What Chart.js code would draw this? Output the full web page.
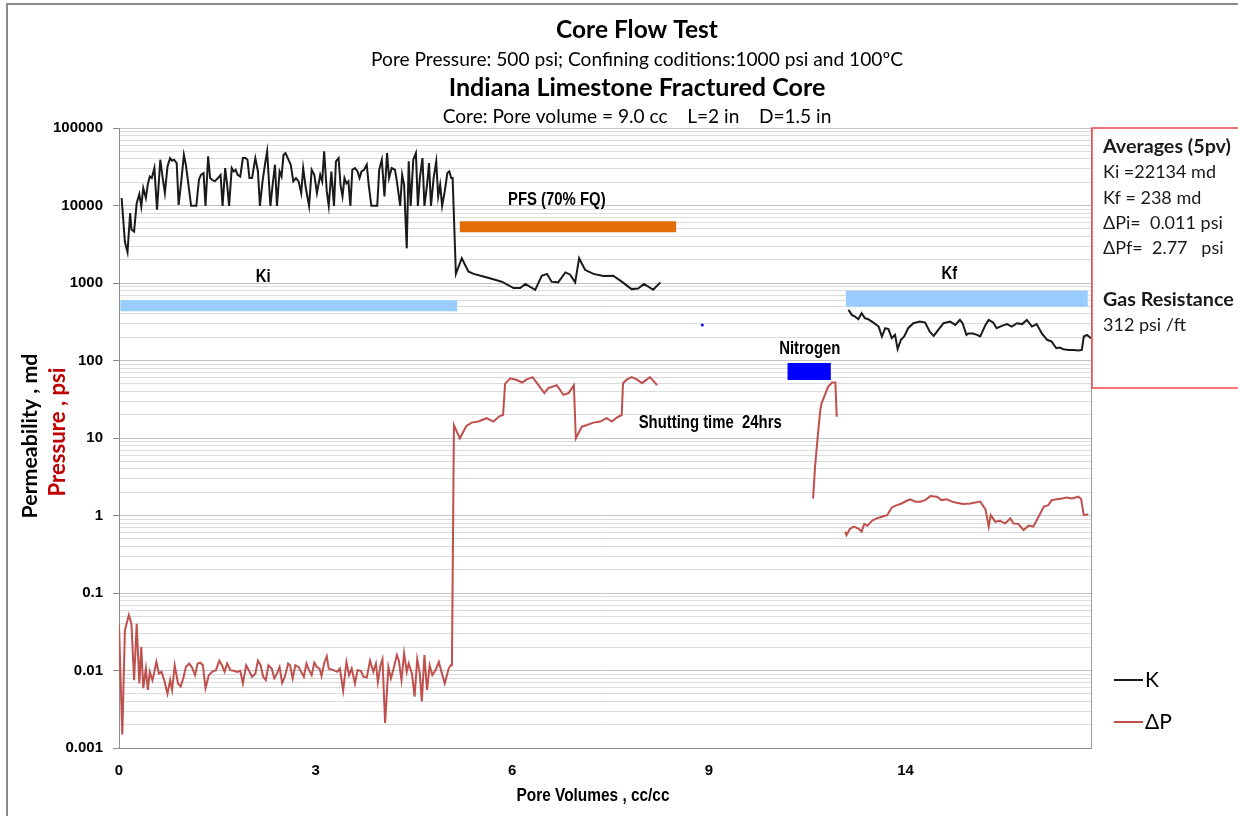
<!DOCTYPE html>
<html><head><meta charset="utf-8">
<script src="https://cdn.jsdelivr.net/npm/chart.js@4.4.1/dist/chart.umd.min.js"></script>
<style>html,body{margin:0;padding:0;background:#fff;}#wrap{width:1238px;height:816px;position:relative;}</style>
</head><body><div id="wrap"><canvas id="c"></canvas></div>
<script>
// ---------- axis ticks ----------
const xTickPos = [0, 3, 6, 9, 12];
const xTickLabels = ['0', '3', '6', '9', '14'];
const yTickValues = [0.001, 0.01, 0.1, 1, 10, 100, 1000, 10000, 100000];
const yTickLabels = ['0.001', '0.01', '0.1', '1', '10', '100', '1000', '10000', '100000'];

// ---------- K (permeability, md) : Ki + PFS period ----------
const kPV = [0.04,0.09,0.13,0.17,0.19,0.23,0.27,0.31,0.34,0.37,0.41,0.44,0.47,0.50,0.54,0.58,0.63,0.66,0.70,0.74,0.78,0.81,0.84,0.88,0.91,0.95,0.99,1.02,1.06,1.10,1.14,1.18,1.22,1.25,1.29,1.32,1.36,1.39,1.42,1.46,1.51,1.55,1.58,1.62,1.65,1.68,1.72,1.75,1.78,1.81,1.85,1.89,1.93,1.96,1.99,2.03,2.08,2.12,2.15,2.19,2.23,2.26,2.31,2.35,2.38,2.41,2.45,2.48,2.51,2.54,2.58,2.62,2.66,2.70,2.74,2.78,2.81,2.85,2.90,2.94,2.98,3.02,3.07,3.10,3.13,3.17,3.20,3.24,3.28,3.31,3.35,3.38,3.41,3.44,3.47,3.50,3.53,3.56,3.60,3.64,3.67,3.70,3.74,3.78,3.81,3.85,3.89,3.94,3.97,4.01,4.05,4.09,4.12,4.16,4.21,4.24,4.29,4.32,4.35,4.39,4.42,4.45,4.49,4.53,4.56,4.59,4.63,4.66,4.70,4.73,4.76,4.80,4.84,4.87,4.90,4.93,4.97,5.01,5.04,5.07,5.09,5.14,5.23,5.33,5.41,5.56,5.71,5.84,6.02,6.12,6.20,6.35,6.45,6.53,6.60,6.70,6.81,6.88,6.96,7.02,7.11,7.24,7.39,7.54,7.67,7.82,7.92,8.01,8.15,8.26];
const kVal = [12500,3400,2500,8000,4900,4600,10700,14000,9700,16800,12500,18900,23700,22600,30400,8800,39000,24900,14500,31900,40900,37900,39000,35300,10200,20500,45100,33600,18500,9900,9900,9900,21500,24900,26200,9900,43000,22600,21500,20500,22600,24900,9900,30400,18500,9900,30400,27500,28900,24900,23700,40900,40900,39000,22600,22600,40900,27500,9900,20500,35300,49900,9900,20500,33600,9900,27500,23700,45100,47400,40000,33600,20500,22600,20500,14500,30400,16800,9900,28900,24900,14500,24900,20500,49900,15200,9900,27500,9900,37100,40900,18500,13100,22600,19300,20500,9900,28900,30400,27500,22600,27500,28900,33600,18500,9900,9900,9900,28900,39000,13100,47400,22600,30400,28900,20500,9900,24900,18500,2800,37100,9900,39000,47400,9900,22600,40900,9900,18500,35300,9900,22600,37100,13100,18500,9900,15200,26200,27500,22600,22600,1310,2090,1410,1310,1210,1120,1040,860,860,975,817,1240,1310,1040,1020,1370,1290,1020,2090,1480,1310,1230,1240,1040,834,850,970,817,1020];

// ---------- K : Kf period ----------
const kfPV = [11.13,11.18,11.23,11.28,11.33,11.38,11.43,11.51,11.59,11.64,11.69,11.74,11.79,11.84,11.88,11.93,11.98,12.04,12.12,12.22,12.30,12.37,12.43,12.50,12.58,12.68,12.76,12.83,12.87,12.93,12.96,13.03,13.09,13.14,13.22,13.27,13.34,13.39,13.47,13.55,13.62,13.70,13.78,13.85,13.93,14.00,14.08,14.16,14.23,14.30,14.35,14.41,14.49,14.56,14.64,14.69,14.72,14.77,14.83];
const kfVal = [450,388,369,341,408,352,341,308,274,204,261,254,194,214,140,185,204,261,303,318,308,236,208,248,303,318,288,334,303,214,223,223,214,204,288,334,308,261,280,295,274,303,295,334,274,295,223,185,175,144,147,140,137,137,135,137,204,214,194];

// ---------- ΔP (psi) : Ki + PFS period ----------
const dpPV = [0.00,0.05,0.09,0.15,0.19,0.23,0.27,0.31,0.34,0.37,0.41,0.44,0.47,0.51,0.54,0.57,0.61,0.65,0.69,0.74,0.78,0.81,0.85,0.90,0.94,0.98,1.02,1.07,1.11,1.16,1.20,1.24,1.28,1.32,1.37,1.42,1.48,1.53,1.57,1.61,1.65,1.70,1.75,1.80,1.85,1.89,1.94,1.98,2.03,2.08,2.12,2.16,2.20,2.24,2.28,2.33,2.37,2.41,2.45,2.49,2.53,2.58,2.61,2.65,2.69,2.74,2.78,2.82,2.86,2.90,2.94,2.98,3.02,3.06,3.09,3.13,3.17,3.20,3.27,3.33,3.37,3.42,3.47,3.51,3.55,3.60,3.64,3.69,3.73,3.78,3.83,3.88,3.92,3.95,3.99,4.02,4.06,4.11,4.15,4.19,4.24,4.27,4.31,4.35,4.39,4.42,4.47,4.51,4.55,4.59,4.62,4.66,4.70,4.74,4.78,4.83,4.88,4.92,4.97,5.03,5.06,5.08,5.11,5.20,5.30,5.38,5.48,5.61,5.71,5.81,5.86,5.89,5.97,6.07,6.15,6.22,6.31,6.40,6.49,6.55,6.68,6.78,6.86,6.94,6.97,7.06,7.14,7.24,7.34,7.44,7.52,7.60,7.67,7.69,7.75,7.82,7.90,7.98,8.10,8.21];
const dpVal = [0.0385,0.0015,0.033,0.052,0.040,0.0075,0.040,0.0068,0.020,0.0059,0.0106,0.0056,0.0096,0.0075,0.0096,0.0129,0.0091,0.0096,0.0075,0.0050,0.0075,0.0056,0.0117,0.0068,0.0062,0.0079,0.0111,0.0123,0.0111,0.0087,0.0123,0.0126,0.0117,0.0059,0.0087,0.0096,0.0101,0.0134,0.0117,0.0096,0.0123,0.0101,0.0099,0.0096,0.0099,0.0068,0.0117,0.0101,0.0083,0.0091,0.0134,0.0117,0.0083,0.0075,0.0117,0.0106,0.0079,0.0091,0.0111,0.0069,0.0083,0.0123,0.0117,0.0079,0.0117,0.0111,0.0096,0.0083,0.0123,0.0101,0.0087,0.0126,0.0111,0.0106,0.0085,0.0123,0.0153,0.0106,0.0101,0.0096,0.0106,0.0055,0.0129,0.0087,0.0106,0.0068,0.0101,0.0099,0.0083,0.0081,0.0134,0.0096,0.0123,0.0071,0.0117,0.0140,0.0021,0.0111,0.0079,0.0106,0.0158,0.0134,0.0075,0.0166,0.0096,0.0123,0.0091,0.0046,0.0140,0.0091,0.0040,0.0158,0.0056,0.0117,0.0087,0.0101,0.0129,0.0096,0.0068,0.0106,0.0117,0.0117,14.7,9.9,14.3,15.8,16.3,18.0,16.3,19.2,19.8,50,59,56,52,57,61,48,38,44,48,36,38,48,9.9,14.0,14.7,15.8,16.3,18.0,16.3,18.5,19.8,51,57,61,57,51,61,48];

// ---------- ΔP : Nitrogen period ----------
const dpN2PV = [10.59,10.62,10.67,10.70,10.72,10.77,10.82,10.88,10.93,10.95];
const dpN2Val = [1.66,4.3,12.7,23,28,36,46,52,52,18.8];

// ---------- ΔP : Kf period ----------
const dpKfPV = [11.08,11.10,11.15,11.21,11.28,11.33,11.37,11.42,11.49,11.56,11.64,11.72,11.79,11.87,11.94,12.02,12.07,12.15,12.22,12.30,12.38,12.48,12.55,12.63,12.71,12.78,12.88,12.99,13.14,13.22,13.27,13.30,13.37,13.44,13.52,13.60,13.65,13.72,13.80,13.88,13.95,14.03,14.11,14.18,14.23,14.31,14.39,14.46,14.54,14.64,14.68,14.72,14.79];
const dpKfVal = [0.62,0.56,0.67,0.72,0.68,0.62,0.78,0.74,0.857,0.918,0.965,1.01,1.27,1.36,1.43,1.55,1.62,1.51,1.51,1.58,1.78,1.75,1.58,1.62,1.51,1.46,1.41,1.43,1.51,1.20,0.72,1.01,0.83,0.857,0.79,0.918,0.79,0.78,0.65,0.74,0.72,0.965,1.30,1.36,1.58,1.62,1.66,1.71,1.66,1.75,1.62,1.01,1.04];

// ---------- isolated point & period bars ----------
const dotPV = [8.90];
const dotVal = [288];
const barKiPV = [0.02, 5.16];   const barKiVal = [510, 510];
const barPfsPV = [5.20, 8.50];  const barPfsVal = [5300, 5300];
const barKfPV = [11.09, 14.78]; const barKfVal = [624, 624];
const barN2PV = [10.20, 10.86]; const barN2Val = [72, 72];

// ---------- annotation texts ----------
const annoText = ['Ki', 'PFS (70% FQ)', 'Kf', 'Nitrogen', 'Shutting time  24hrs'];
const annoPV = [2.20, 6.68, 12.67, 10.54, 9.02];
const annoVal = [1200, 11900, 1310, 141, 15.6];

const titleLines = ['Core Flow Test', 'Pore Pressure: 500 psi; Confining coditions:1000 psi and 100ºC', 'Indiana Limestone Fractured Core', 'Core: Pore volume = 9.0 cc    L=2 in    D=1.5 in'];
const boxLines = ['Averages (5pv)', 'Ki =22134 md', 'Kf = 238 md', 'ΔPi=  0.011 psi', 'ΔPf=  2.77   psi', '', 'Gas Resistance', '312 psi /ft'];
const legendLabels = ['K', 'ΔP'];

// ---------- build ----------
const pts = (xs, ys) => xs.map((x, i) => ({x: x, y: ys[i]}));
const K_COLOR = '#1a1a1a', DP_COLOR = '#C0504D';
const line = (label, xs, ys, color, w, extra) => Object.assign({label, data: pts(xs, ys), borderColor: color, backgroundColor: color, borderWidth: w, pointRadius: 0, tension: 0, fill: false}, extra || {});
const datasets = [
  line('K', kPV, kVal, K_COLOR, 2),
  line('K', kfPV, kfVal, K_COLOR, 2),
  line('ΔP', dpPV, dpVal, DP_COLOR, 2),
  line('ΔP', dpN2PV, dpN2Val, DP_COLOR, 2),
  line('ΔP', dpKfPV, dpKfVal, DP_COLOR, 2),
  line('dot', dotPV, dotVal, '#0000FF', 0, {pointRadius: 1.5, showLine: false}),
  line('Ki bar', barKiPV, barKiVal, '#99CCFF', 11, {borderCapStyle: 'butt'}),
  line('PFS bar', barPfsPV, barPfsVal, '#E36C09', 11, {borderCapStyle: 'butt'}),
  line('Kf bar', barKfPV, barKfVal, '#99CCFF', 16, {borderCapStyle: 'butt'}),
  line('N2 bar', barN2PV, barN2Val, '#0000FF', 17, {borderCapStyle: 'butt'})
];

const SANS = 'Lato, "Open Sans", sans-serif';
const ARIAL = '"Liberation Sans", Arial, sans-serif';

function fitSize(ctx, text, weight, family, width) {
  ctx.font = weight + ' 100px ' + family;
  return 100 * width / ctx.measureText(text).width;
}
function txt(ctx, text, weight, size, family, x, y, color, align) {
  ctx.font = weight + ' ' + size + 'px ' + family;
  ctx.fillStyle = color; ctx.textAlign = align || 'center'; ctx.textBaseline = 'middle';
  ctx.fillText(text, x, y);
}
// condensed text: fixed font size, horizontally squeezed by factor sx
function txtNarrow(ctx, text, size, sx, x, y, color) {
  ctx.save();
  ctx.translate(x, y); ctx.scale(sx, 1);
  txt(ctx, text, 'bold', size, ARIAL, 0, 0, color);
  ctx.restore();
}
function squeeze(ctx, text, size, width) {
  ctx.font = 'bold ' + size + 'px ' + ARIAL;
  return width / ctx.measureText(text).width;
}

const decor = {
  id: 'decor',
  beforeDraw(chart) {
    const ctx = chart.ctx;
    ctx.save(); ctx.fillStyle = '#fff'; ctx.fillRect(0, 0, chart.width, chart.height); ctx.restore();
  },
  afterDraw(chart) {
    const ctx = chart.ctx, ca = chart.chartArea, xs = chart.scales.x, ys = chart.scales.y;
    ctx.save();
    // outer frame
    ctx.strokeStyle = '#8c8c8c'; ctx.lineWidth = 2;
    ctx.beginPath(); ctx.moveTo(7, 816); ctx.lineTo(7, 4); ctx.lineTo(1238, 4); ctx.stroke();
    // plot right border
    ctx.strokeStyle = '#9a9a9a'; ctx.lineWidth = 1;
    ctx.beginPath(); ctx.moveTo(ca.right + 0.5, ca.top); ctx.lineTo(ca.right + 0.5, ca.bottom); ctx.stroke();
    // titles
    const tW = [162, 532, 377, 389], tY = [30, 60, 88, 117], tB = ['bold', 'normal', 'bold', 'normal'];
    titleLines.forEach((t, i) => {
      const s = fitSize(ctx, t, tB[i], SANS, tW[i]);
      txt(ctx, t, tB[i], s, SANS, 637, tY[i], '#000');
    });
    // y axis titles
    ctx.save(); ctx.translate(30, 436); ctx.rotate(-Math.PI / 2);
    txt(ctx, 'Permeability , md', 'bold', fitSize(ctx, 'Permeability , md', 'bold', SANS, 165), SANS, 0, 0, '#000');
    ctx.restore();
    ctx.save(); ctx.translate(58, 432); ctx.rotate(-Math.PI / 2);
    txt(ctx, 'Pressure , psi', 'bold', fitSize(ctx, 'Pressure , psi', 'bold', SANS, 129), SANS, 0, 0, '#C00000');
    ctx.restore();
    // x axis title (condensed bold)
    const xt = 'Pore Volumes , cc/cc';
    txtNarrow(ctx, xt, 18.5, squeeze(ctx, xt, 18.5, 153), 593, 796, '#000');
    // annotations (condensed bold)
    const sx = squeeze(ctx, annoText[4], 19, 143);
    annoText.forEach((t, i) => {
      txtNarrow(ctx, t, 19, sx, xs.getPixelForValue(annoPV[i]), ys.getPixelForValue(annoVal[i]), '#000');
    });
    // averages box
    ctx.strokeStyle = '#F04848'; ctx.lineWidth = 1.5;
    ctx.strokeRect(ca.right + 1, ca.top, 200, 260);
    const bBold = fitSize(ctx, boxLines[0], 'bold', SANS, 128);
    const bReg = fitSize(ctx, boxLines[1], 'normal', SANS, 113);
    const bY = [147, 172, 198, 223, 248, 274, 300, 325];
    boxLines.forEach((t, i) => {
      if (!t) return;
      const bold = (i === 0 || i === 6);
      txt(ctx, t, bold ? 'bold' : 'normal', bold ? bBold : bReg, SANS, 1103, bY[i], '#1a1a1a', 'left');
    });
    // legend
    const lc = [K_COLOR, DP_COLOR], ly = [680, 722];
    legendLabels.forEach((t, i) => {
      ctx.strokeStyle = lc[i]; ctx.lineWidth = 2;
      ctx.beginPath(); ctx.moveTo(1114, ly[i]); ctx.lineTo(1143, ly[i]); ctx.stroke();
      txt(ctx, t, 'normal', 21, SANS, 1145, ly[i], '#000', 'left');
    });
    ctx.restore();
  }
};

const minorTicks = [];
yTickValues.forEach(v => {
  minorTicks.push({value: v, major: true});
  if (v < 100000) for (let m = 2; m <= 9; m++) minorTicks.push({value: +(v * m).toPrecision(3), major: false});
});

new Chart(document.getElementById('c'), {
  type: 'line',
  data: {datasets},
  options: {
    responsive: true, maintainAspectRatio: false, animation: false, devicePixelRatio: 1,
    layout: {padding: {top: 128, right: 147, left: 0, bottom: 0}},
    plugins: {legend: {display: false}, title: {display: false}, tooltip: {enabled: false}},
    scales: {
      x: {
        type: 'linear', min: 0, max: 14.83,
        afterBuildTicks: s => { s.ticks = xTickPos.map(v => ({value: v})); },
        afterFit: s => { s.height = 68; },
        grid: {display: false, drawTicks: false},
        border: {display: true, color: '#8c8c8c', width: 1},
        ticks: {
          autoSkip: false, maxRotation: 0, padding: 14, color: '#000',
          font: {family: ARIAL, size: 15, weight: 'bold'},
          callback: (v) => { const i = xTickPos.indexOf(v); return i >= 0 ? xTickLabels[i] : ''; }
        }
      },
      y: {
        type: 'logarithmic', min: 0.001, max: 100000,
        afterBuildTicks: s => { s.ticks = minorTicks.map(t => ({value: t.value, major: t.major})); },
        afterFit: s => { s.width = 119; },
        grid: {
          display: true, drawTicks: true, tickLength: 6,
          color: c => (c.tick && c.tick.major) ? '#c4c4c4' : '#dcdcdc',
          tickColor: c => (c.tick && c.tick.major) ? '#8c8c8c' : 'rgba(0,0,0,0)',
          lineWidth: 1
        },
        border: {display: true, color: '#8c8c8c', width: 1},
        ticks: {
          autoSkip: false, padding: 10, color: '#000',
          font: {family: ARIAL, size: 15, weight: 'bold'},
          callback: (v) => { const i = yTickValues.indexOf(v); return i >= 0 ? yTickLabels[i] : ''; }
        }
      }
    }
  },
  plugins: [decor]
});
</script>
</body></html>
